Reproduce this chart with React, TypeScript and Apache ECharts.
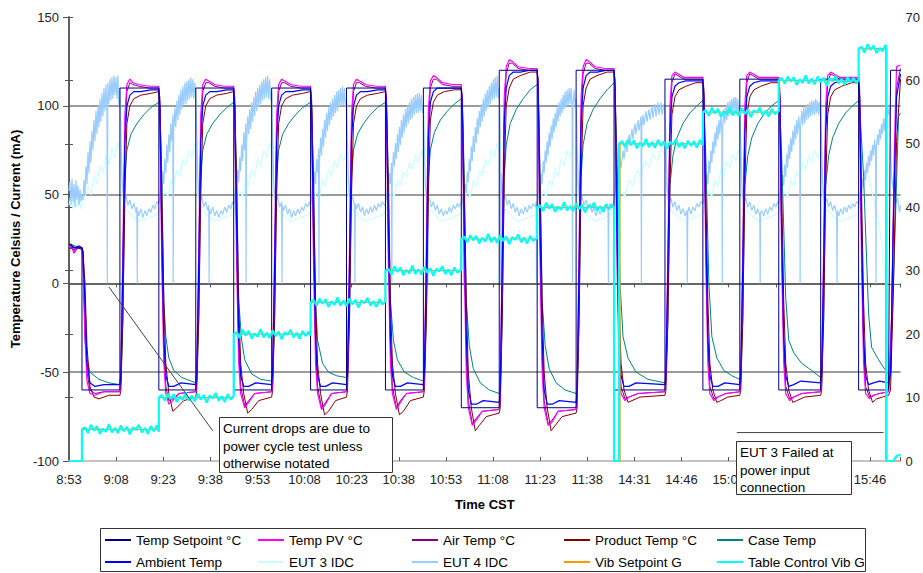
import React, { useEffect, useRef } from 'react';
import * as echarts from 'echarts';

// x = sample index; one time label every TICK_STEP samples
const TICK_STEP = 47.2;
const X_MAX = 833;
const TIME_LABELS = ['8:53', '9:08', '9:23', '9:38', '9:53', '10:08', '10:23', '10:38', '10:53', '11:08', '11:23', '11:38', '14:31', '14:46', '15:01', '15:16', '15:31', '15:46'];
// labels hidden behind the "EUT 3 Failed" note in the reference
const COVERED_LABELS = ['15:16', '15:31'];

const SETPOINT = [0,22, 3,22, 3,20, 13,20, 13,-60, 51,-60, 51,110, 90,110, 90,-60, 127,-60, 127,110, 165,110, 165,-60, 203,-60, 203,110, 242,110, 242,-60, 278,-60, 278,110, 317,110, 317,-60, 355,-60, 355,110, 393,110, 393,-70, 431,-70, 431,120, 469,120, 469,-70, 508,-70, 508,120, 546,120, 546,-60, 597,-60, 597,115, 635,115, 635,-60, 672,-60, 672,115, 711,115, 711,-60, 753,-60, 753,115, 791,115, 791,-60, 821,-60, 823,120, 833,120];

const TEMP_PV = [0,21, 3,20, 5,17, 7,19, 9,21, 13,20,
 14,12, 16,-30, 18,-55, 21,-62, 26,-63, 35,-61, 51,-61,
 52,-50, 54,20, 56,95, 58,112, 61,115, 64,113, 70,112, 80,111, 90,111,
 91,95, 93,10, 95,-45, 97,-62, 100,-68, 104,-66, 110,-62, 127,-61,
 128,-50, 130,20, 132,95, 134,112, 137,115, 140,114, 146,112, 155,111, 165,111,
 166,95, 168,10, 170,-45, 172,-62, 176,-70, 180,-67, 186,-62, 203,-61,
 204,-50, 206,20, 208,95, 210,112, 213,115, 216,114, 222,112, 232,111, 242,111,
 243,95, 245,10, 247,-45, 249,-62, 253,-71, 257,-68, 263,-62, 278,-61,
 279,-50, 281,20, 283,95, 285,112, 288,115, 291,114, 297,112, 307,111, 317,111,
 318,95, 320,10, 322,-45, 324,-62, 328,-71, 332,-67, 338,-62, 355,-61,
 356,-50, 358,20, 360,98, 362,114, 365,117, 368,116, 374,113, 384,112, 393,112,
 394,95, 396,10, 398,-50, 400,-70, 404,-80, 408,-77, 414,-72, 431,-71,
 432,-60, 434,20, 436,105, 438,122, 441,126, 444,125, 450,122, 460,121, 469,121,
 470,105, 472,10, 474,-50, 476,-70, 480,-80, 484,-78, 490,-72, 508,-71,
 509,-60, 511,20, 513,105, 515,122, 518,126, 521,125, 527,122, 537,121, 546,121,
 547,105, 549,10, 551,-45, 553,-62, 557,-66, 561,-64, 570,-62, 597,-61,
 598,-50, 600,20, 602,100, 604,117, 607,119, 610,118, 616,116, 626,116, 635,116,
 636,100, 638,10, 640,-45, 642,-62, 646,-66, 650,-64, 658,-62, 672,-61,
 673,-50, 675,20, 677,100, 679,117, 682,119, 685,118, 691,116, 701,116, 711,116,
 712,100, 714,10, 716,-45, 718,-62, 722,-66, 726,-64, 734,-62, 753,-61,
 754,-50, 756,20, 758,100, 760,117, 763,119, 766,118, 772,116, 782,116, 791,116,
 792,100, 794,10, 796,-45, 798,-62, 802,-65, 806,-63, 812,-62, 821,-61,
 824,-20, 827,80, 829,122, 833,123];

const AIR_TEMP = [0,21, 3,20, 6,18, 9,20, 13,20,
 14,15, 16,-20, 18,-50, 21,-60, 26,-62, 35,-61, 51,-61,
 52,-55, 54,0, 56,85, 58,108, 61,113, 64,112, 70,111, 80,110, 90,110,
 91,100, 93,20, 95,-35, 97,-58, 100,-66, 104,-65, 110,-62, 127,-61,
 128,-55, 130,0, 132,85, 134,108, 137,113, 140,113, 146,111, 155,110, 165,110,
 166,100, 168,20, 170,-35, 172,-58, 176,-69, 180,-66, 186,-62, 203,-61,
 204,-55, 206,0, 208,85, 210,108, 213,113, 216,113, 222,111, 232,110, 242,110,
 243,100, 245,20, 247,-35, 249,-58, 253,-70, 257,-67, 263,-62, 278,-61,
 279,-55, 281,0, 283,85, 285,108, 288,113, 291,113, 297,111, 307,110, 317,110,
 318,100, 320,20, 322,-35, 324,-58, 328,-70, 332,-66, 338,-62, 355,-61,
 356,-55, 358,0, 360,88, 362,110, 365,115, 368,115, 374,112, 384,111, 393,111,
 394,100, 396,20, 398,-40, 400,-66, 404,-79, 408,-76, 414,-72, 431,-71,
 432,-65, 434,0, 436,95, 438,118, 441,124, 444,124, 450,121, 460,120, 469,120,
 470,110, 472,20, 474,-40, 476,-66, 480,-79, 484,-77, 490,-72, 508,-71,
 509,-65, 511,0, 513,95, 515,118, 518,124, 521,124, 527,121, 537,120, 546,120,
 547,110, 549,20, 551,-35, 553,-58, 557,-65, 561,-64, 570,-62, 597,-61,
 598,-55, 600,0, 602,90, 604,113, 607,118, 610,117, 616,115, 626,115, 635,115,
 636,105, 638,20, 640,-35, 642,-58, 646,-65, 650,-64, 658,-62, 672,-61,
 673,-55, 675,0, 677,90, 679,113, 682,118, 685,117, 691,115, 701,115, 711,115,
 712,105, 714,20, 716,-35, 718,-58, 722,-65, 726,-64, 734,-62, 753,-61,
 754,-55, 756,0, 758,90, 760,113, 763,118, 766,117, 772,115, 782,115, 791,115,
 792,105, 794,20, 796,-35, 798,-58, 802,-64, 806,-63, 812,-62, 821,-61,
 823,-50, 826,40, 829,110, 833,121];

const PRODUCT_TEMP = [0,20, 5,19, 9,20, 13,19,
 14,18, 16,0, 18,-35, 21,-58, 25,-64, 30,-65, 40,-63, 51,-63,
 52,-60, 54,-20, 56,50, 58,90, 61,100, 65,104, 72,106, 82,107, 90,108,
 91,105, 93,50, 95,-10, 97,-45, 100,-62, 104,-72, 108,-70, 115,-66, 127,-64,
 128,-60, 130,-20, 132,50, 134,90, 137,100, 141,104, 148,106, 158,107, 165,108,
 166,105, 168,50, 170,-10, 172,-45, 175,-62, 179,-73, 183,-71, 190,-66, 203,-64,
 204,-60, 206,-20, 208,50, 210,90, 213,100, 217,104, 224,106, 234,107, 242,108,
 243,105, 245,50, 247,-10, 249,-45, 252,-62, 256,-74, 260,-72, 267,-66, 278,-64,
 279,-60, 281,-20, 283,50, 285,90, 288,100, 292,104, 299,106, 309,107, 317,108,
 318,105, 320,50, 322,-10, 324,-45, 327,-62, 331,-74, 335,-72, 342,-66, 355,-64,
 356,-60, 358,-20, 360,50, 362,92, 365,102, 369,106, 376,108, 386,109, 393,109,
 394,105, 396,50, 398,-10, 400,-50, 403,-70, 407,-83, 411,-80, 418,-75, 431,-73,
 432,-70, 434,-20, 436,60, 438,100, 441,110, 445,115, 452,117, 462,119, 469,119,
 470,115, 472,50, 474,-10, 476,-50, 479,-70, 483,-83, 487,-80, 494,-75, 508,-73,
 509,-70, 511,-20, 513,60, 515,100, 518,110, 522,115, 529,117, 539,119, 546,119,
 547,115, 549,50, 551,-10, 553,-45, 556,-60, 560,-67, 564,-66, 572,-64, 597,-63,
 598,-60, 600,-20, 602,55, 604,95, 607,105, 611,109, 618,111, 628,113, 635,113,
 636,110, 638,50, 640,-10, 642,-45, 645,-60, 649,-67, 653,-66, 660,-64, 672,-63,
 673,-60, 675,-20, 677,55, 679,95, 682,105, 686,109, 693,111, 703,113, 711,113,
 712,110, 714,50, 716,-10, 718,-45, 721,-60, 725,-67, 729,-66, 737,-64, 753,-63,
 754,-60, 756,-20, 758,55, 760,95, 763,105, 767,109, 774,111, 784,113, 791,113,
 792,110, 794,50, 796,-10, 798,-45, 801,-60, 805,-67, 809,-65, 815,-64, 821,-63,
 823,-60, 826,0, 829,80, 833,115];

const CASE_TEMP = [0,22, 13,20,
 14,18, 16,-32, 18,-42, 21,-50, 30,-54, 40,-56, 51,-57,
 52,-55, 54,-20, 56,60, 58,75, 62,84, 68,90, 75,95, 82,99, 90,102,
 91,100, 93,60, 95,-10, 97,-30, 100,-42, 105,-49, 113,-53, 127,-56,
 128,-54, 130,-20, 132,60, 134,75, 138,84, 144,90, 151,95, 158,99, 165,102,
 166,100, 168,60, 170,-10, 173,-32, 176,-43, 183,-51, 192,-54, 203,-55,
 204,-53, 206,-20, 208,60, 210,75, 214,84, 220,90, 227,95, 234,99, 242,102,
 243,100, 245,60, 247,-10, 249,-32, 254,-45, 260,-50, 268,-52, 278,-53,
 279,-52, 281,-20, 283,60, 285,75, 289,84, 295,90, 302,95, 309,99, 317,102,
 318,100, 320,60, 322,-10, 325,-32, 329,-43, 336,-50, 345,-53, 355,-55,
 356,-53, 358,-20, 360,60, 362,75, 366,85, 372,92, 379,97, 386,101, 393,104,
 394,102, 396,60, 398,-10, 401,-35, 405,-48, 412,-56, 421,-60, 431,-62,
 432,-60, 434,-20, 436,60, 438,78, 442,90, 448,98, 455,104, 462,109, 469,112,
 470,110, 472,60, 474,-10, 477,-35, 481,-48, 488,-56, 497,-60, 508,-62,
 509,-60, 511,-20, 513,60, 515,78, 519,90, 525,98, 532,104, 539,109, 546,113,
 547,110, 549,70, 552,0, 555,-30, 560,-42, 568,-50, 580,-54, 597,-56,
 598,-54, 600,-20, 602,55, 605,72, 609,82, 615,90, 622,96, 629,100, 635,103,
 636,100, 638,70, 641,0, 644,-30, 649,-42, 656,-49, 664,-52, 672,-54,
 673,-52, 675,-20, 677,55, 680,72, 684,82, 690,90, 697,96, 704,100, 711,103,
 712,100, 714,70, 718,-8, 721,-32, 726,-39, 734,-45, 744,-49, 753,-53,
 754,-51, 756,-20, 758,55, 761,72, 765,82, 771,90, 778,96, 785,100, 791,103,
 792,100, 796,60, 801,-17, 804,-36, 811,-43, 818,-49, 821,-51,
 823,-50, 827,20, 831,94, 833,96];

const AMBIENT_TEMP = [0,22, 3,21, 6,20, 10,21, 13,20,
 14,18, 16,-10, 18,-45, 21,-56, 26,-58, 35,-57, 51,-57,
 52,-50, 54,10, 56,80, 58,100, 61,106, 65,108, 72,108, 82,109, 90,109,
 91,100, 93,30, 95,-30, 97,-52, 100,-58, 105,-58, 112,-56, 127,-57,
 128,-50, 130,10, 132,80, 134,100, 137,106, 141,108, 148,108, 158,109, 165,109,
 166,100, 168,30, 170,-30, 172,-52, 175,-58, 180,-58, 187,-56, 203,-57,
 204,-50, 206,10, 208,80, 210,100, 213,106, 217,108, 224,108, 234,109, 242,109,
 243,100, 245,30, 247,-30, 249,-52, 252,-58, 257,-58, 264,-56, 278,-57,
 279,-50, 281,10, 283,80, 285,100, 288,106, 292,108, 299,108, 309,109, 317,109,
 318,100, 320,30, 322,-30, 324,-52, 327,-58, 332,-58, 339,-56, 355,-57,
 356,-50, 358,10, 360,82, 362,102, 365,108, 369,110, 376,110, 386,110, 393,110,
 394,100, 396,30, 398,-30, 400,-60, 403,-68, 408,-68, 415,-66, 431,-67,
 432,-60, 434,10, 436,90, 438,110, 441,117, 445,119, 452,119, 462,120, 469,120,
 470,110, 472,30, 474,-30, 476,-60, 479,-68, 484,-68, 491,-66, 508,-67,
 509,-60, 511,10, 513,90, 515,110, 518,117, 522,119, 529,119, 539,120, 546,120,
 547,110, 549,30, 551,-30, 553,-52, 556,-58, 561,-58, 568,-56, 597,-57,
 598,-50, 600,10, 602,85, 604,105, 607,111, 611,113, 618,114, 628,114, 635,114,
 636,105, 638,30, 640,-30, 642,-52, 645,-58, 650,-58, 657,-56, 672,-57,
 673,-50, 675,10, 677,85, 679,105, 682,111, 686,113, 693,114, 703,114, 711,114,
 712,105, 714,30, 716,-30, 718,-52, 721,-58, 726,-57, 733,-55, 753,-56,
 754,-50, 756,10, 758,85, 760,105, 763,111, 767,113, 774,114, 784,114, 791,114,
 792,105, 794,30, 796,-30, 798,-52, 801,-57, 806,-56, 812,-55, 821,-56,
 823,-50, 826,40, 829,105, 833,118];

const EUT3_IDC = [0,44, 2,50, 4,42, 6,49, 8,43, 10,48, 12,42, 13,45,
 16,48, 19,55, 22,50, 25,60, 28,56, 31,66, 34,62, 37,72, 40,67, 43,76, 46,71, 49,80, 51,74,
 53,50, 55,42, 60,40, 65,37, 70,35, 75,36, 80,37, 85,38, 90,40,
 93,46, 96,52, 99,49, 102,58, 105,55, 108,64, 111,60, 114,70, 117,66, 120,75, 123,71, 126,79, 127,75,
 129,50, 131,42, 136,40, 141,37, 146,35, 151,36, 156,37, 161,38, 165,40,
 168,46, 171,52, 174,49, 177,58, 180,55, 183,64, 186,60, 189,70, 192,66, 195,75, 198,71, 201,79, 203,75,
 205,50, 207,42, 212,40, 217,37, 222,35, 227,36, 232,37, 237,38, 242,40,
 245,46, 248,52, 251,49, 254,58, 257,55, 260,64, 263,60, 266,69, 269,65, 272,73, 275,69, 278,75,
 280,50, 282,42, 287,40, 292,37, 297,35, 302,36, 307,37, 312,38, 317,40,
 320,46, 323,52, 326,49, 329,58, 332,55, 335,63, 338,60, 341,68, 344,64, 347,72, 350,68, 353,75, 355,72,
 357,50, 359,42, 364,40, 369,37, 374,35, 379,36, 384,37, 389,38, 393,40,
 396,46, 399,52, 402,49, 405,58, 408,55, 411,64, 414,60, 417,70, 420,66, 423,75, 426,71, 429,79, 431,75,
 433,50, 435,42, 440,40, 445,37, 450,35, 455,36, 460,37, 465,38, 469,40,
 472,46, 475,52, 478,49, 481,58, 484,55, 487,64, 490,60, 493,70, 496,66, 499,75, 502,71, 505,78, 508,75,
 510,50, 512,42, 517,40, 522,37, 527,35, 532,36, 537,37, 542,38, 546,40,
 549,46, 553,52, 557,49, 561,58, 565,55, 569,64, 573,60, 577,69, 581,65, 585,73, 589,69, 593,76, 597,73,
 599,50, 601,42, 606,40, 611,37, 616,35, 621,36, 626,37, 631,38, 635,40,
 638,46, 641,52, 644,49, 647,58, 650,55, 653,64, 656,60, 659,69, 662,65, 665,73, 668,69, 671,76, 672,73,
 674,50, 676,42, 681,40, 686,37, 691,35, 696,36, 701,37, 706,38, 711,40,
 714,46, 717,52, 720,49, 723,58, 726,55, 729,63, 732,60, 735,68, 738,64, 741,72, 744,68, 747,75, 750,71, 753,74,
 755,50, 757,42, 762,40, 767,37, 772,35, 777,36, 782,37, 787,38, 791,40,
 795,55, 799,65, 803,55, 807,45, 811,35, 814,22, 816,10, 818,0, 822,0, 826,0, 830,0, 833,0];

const EUT4_IDC = [0,52, 1,57, 2,44, 3,59, 4,46, 5,56, 6,43, 7,58, 8,47, 9,55, 10,44, 11,53, 12,46, 13,50,
 14,47, 15,58, 16,50, 17,66, 18,56, 19,74, 20,62, 21,80, 22,68, 23,86, 24,75, 25,92, 26,80, 27,97, 28,84, 29,100, 30,88, 31,104, 32,91, 33,107, 34,94, 35,110, 36,97, 37,112, 38,98, 38.4,0, 38.8,100, 39,113, 40,101, 41,115, 42,103, 43,116, 44,104, 45,117, 46,106, 47,116, 48,104, 49,117, 50,100, 51,110,
 52,85, 53,60, 54,52, 55,47, 57,50, 59,44, 61,47, 63,42, 65,45, 67,40, 68,43, 68.4,0, 68.8,41, 70,38, 72,42, 74,37, 76,41, 78,38, 80,42, 82,40, 84,44, 86,42, 88,46, 90,45,
 91,48, 92,55, 93,50, 94,63, 95,56, 96,70, 97,62, 98,78, 99,68, 100,84, 101,74, 102,90, 103,80, 104,95, 104.4,0, 104.8,84, 106,99, 107,88, 108,103, 109,92, 110,106, 111,95, 112,109, 113,98, 114,111, 115,100, 116,113, 117,101, 118,114, 119,103, 120,115, 121,104, 122,116, 123,105, 124,115, 125,104, 126,113, 127,108,
 128,85, 129,60, 130,50, 131,46, 133,49, 135,43, 137,46, 139,41, 140,44, 140.4,0, 140.8,42, 142,39, 144,43, 146,38, 148,41, 150,37, 152,41, 154,39, 156,43, 158,40, 160,44, 162,42, 164,46, 165,44,
 166,47, 167,56, 168,50, 169,64, 170,57, 171,71, 172,63, 173,78, 174,69, 175,85, 176,75, 177,90, 177.4,0, 177.8,78, 179,94, 180,84, 181,98, 182,87, 183,102, 184,91, 185,105, 186,94, 187,108, 188,97, 189,110, 190,99, 191,112, 192,101, 193,114, 194,103, 195,115, 196,104, 197,116, 198,105, 199,117, 200,104, 201,115, 202,103, 203,108,
 204,82, 205,58, 206,50, 207,46, 209,49, 211,43, 213,46, 213.4,0, 213.8,44, 215,41, 217,44, 219,39, 221,42, 223,37, 225,41, 227,38, 229,42, 231,39, 233,43, 235,41, 237,45, 239,43, 241,46, 242,44,
 243,48, 244,56, 245,50, 246,63, 247,56, 248,70, 249,62, 250,76, 250.4,0, 250.8,66, 252,82, 253,72, 254,87, 255,77, 256,92, 257,82, 258,96, 259,86, 260,99, 261,89, 262,102, 263,92, 264,104, 265,94, 266,106, 267,96, 268,108, 269,97, 270,109, 271,99, 272,110, 273,100, 274,111, 275,100, 276,110, 277,99, 278,104,
 279,80, 280,57, 281,50, 282,46, 284,49, 286,44, 286.4,0, 286.8,45, 288,42, 290,45, 292,40, 294,43, 296,38, 298,42, 300,39, 302,43, 304,40, 306,44, 308,41, 310,45, 312,43, 314,46, 316,44, 317,45,
 318,48, 319,55, 320,50, 321,62, 322,56, 323,68, 323.4,0, 323.8,60, 325,74, 326,66, 327,79, 328,70, 329,84, 330,74, 331,88, 332,78, 333,92, 334,82, 335,95, 336,85, 337,98, 338,88, 339,100, 340,90, 341,102, 342,92, 343,104, 344,93, 345,105, 346,95, 347,106, 348,96, 349,107, 350,96, 351,107, 352,97, 353,106, 354,96, 355,100,
 356,78, 357,56, 358,49, 359,45, 359.4,0, 359.8,46, 361,48, 363,43, 365,46, 367,41, 369,44, 371,39, 373,42, 375,38, 377,41, 379,39, 381,43, 383,40, 385,44, 387,42, 389,45, 391,43, 393,46,
 394,49, 395,42, 395.4,0, 395.8,50, 397,56, 398,51, 399,63, 400,57, 401,70, 402,63, 403,77, 404,69, 405,83, 406,74, 407,88, 408,79, 409,93, 410,84, 411,97, 412,88, 413,101, 414,91, 415,104, 416,94, 417,107, 418,97, 419,109, 420,99, 421,111, 422,101, 423,113, 424,103, 425,115, 426,104, 427,116, 428,105, 429,117, 430,104, 431,110,
 432,85, 432.4,0, 432.8,62, 434,52, 435,47, 437,50, 439,44, 441,47, 443,42, 445,45, 447,40, 449,43, 451,38, 453,42, 455,39, 457,43, 459,40, 461,44, 463,42, 465,45, 467,43, 468,46, 468.4,0, 468.8,46, 469,45,
 470,48, 471,56, 472,50, 473,62, 474,56, 475,69, 476,62, 477,75, 478,68, 479,80, 480,72, 481,85, 482,77, 483,89, 484,81, 485,93, 486,85, 487,96, 488,88, 489,99, 490,91, 491,102, 492,94, 493,104, 494,96, 495,106, 496,98, 497,108, 498,99, 499,109, 500,100, 501,110, 502,101, 503,110, 504,100, 504.4,0, 504.8,100, 506,109, 507,100, 508,104,
 509,80, 510,57, 511,50, 512,46, 514,49, 516,44, 518,47, 520,42, 522,45, 524,40, 526,43, 528,38, 530,42, 532,39, 534,43, 536,40, 538,44, 540,41, 540.4,0, 540.8,42, 542,45, 544,43, 546,46,
 547,50, 548,58, 549,54, 550,64, 551,60, 552,70, 553,65, 555,75, 556,70, 558,80, 559,74, 561,84, 562,78, 564,87, 565,81, 567,90, 568,84, 570,92, 571,86, 573,94, 573.4,0, 573.8,88, 575,95, 576,89, 578,97, 579,91, 581,98, 582,92, 584,100, 585,93, 587,101, 588,94, 590,102, 591,95, 593,102, 594,95, 596,101, 597,98,
 598,78, 599,56, 600,49, 601,45, 603,48, 605,43, 607,46, 609,41, 611,44, 613,39, 615,42, 617,38, 619,41, 619.4,0, 619.8,40, 621,43, 623,39, 625,43, 627,41, 629,45, 631,43, 633,46, 635,45,
 636,48, 637,55, 638,50, 639,62, 640,56, 641,69, 642,62, 643,75, 644,68, 645,80, 646,73, 647,85, 648,77, 649,89, 650,81, 651,92, 652,84, 653,95, 654,86, 654.4,0, 654.8,88, 656,98, 657,90, 658,100, 659,92, 660,102, 661,94, 662,103, 663,95, 664,104, 665,96, 666,105, 667,97, 668,105, 669,96, 670,104, 671,95, 672,100,
 673,78, 674,56, 675,49, 676,45, 678,48, 680,43, 682,46, 684,41, 686,44, 688,39, 690,42, 692,38, 692.4,0, 692.8,40, 694,41, 696,38, 698,42, 700,39, 702,43, 704,41, 706,45, 708,43, 710,46, 711,45,
 712,48, 713,55, 714,50, 715,61, 716,55, 717,67, 718,60, 719,73, 720,65, 721,78, 722,70, 723,82, 724,74, 725,86, 726,78, 727,89, 728,81, 729,92, 730,84, 731,94, 732,86, 732.4,0, 732.8,88, 734,97, 735,89, 736,99, 737,90, 738,100, 739,92, 740,101, 741,93, 742,102, 743,94, 744,103, 745,95, 746,103, 747,95, 748,104, 749,96, 750,103, 751,95, 752,102, 753,98,
 754,78, 755,56, 756,49, 757,45, 759,48, 761,43, 763,46, 765,41, 767,44, 769,39, 769.4,0, 769.8,41, 771,38, 773,42, 775,39, 777,43, 779,40, 781,44, 783,42, 785,45, 787,43, 789,46, 791,45,
 792,48, 793,54, 794,50, 795,59, 796,54, 797,64, 798,58, 799,68, 800,62, 801,72, 802,66, 803,75, 804,69, 805,78, 806,72, 807,81, 808,75, 808.4,0, 808.8,76, 810,84, 811,78, 812,87, 813,81, 814,90, 815,84, 816,93, 817,86, 818,96, 819,89, 820,99, 821,95, 822,100,
 823,80, 824,60, 826,52, 828,45, 830,48, 832,40, 833,44];

const VIB_SETPOINT = [0,0, 13,0, 13,5, 90,5, 90,10, 165,10, 165,20, 242,20, 242,25, 317,25, 317,30, 393,30, 393,35, 469,35, 469,40, 546,40, 546,0, 552,0, 552,50, 635,50, 635,55, 711,55, 711,60, 791,60, 791,65, 818,65, 818,0, 833,0];

const TABLE_VIB = [0,0, 13,0,
 13,5, 16,5.3, 19,4.4, 22,5.7, 25,4.8, 28,5.5, 31,4.3, 34,5.1, 37,4.6, 40,5.8, 43,4.5, 46,5.2, 49,4.4, 52,5.6, 55,4.7, 58,5.4, 61,4.2, 64,5.3, 67,4.9, 70,5.7, 73,4.5, 76,5.2, 79,4.3, 82,5.5, 85,4.7, 88,5.6, 90,4.6,
 90,10, 93,10.4, 96,9.5, 99,10.6, 102,9.8, 105,10.5, 108,9.3, 111,10.2, 114,9.6, 117,10.8, 120,9.5, 123,10.3, 126,9.4, 129,10.6, 132,9.7, 135,10.4, 138,9.2, 141,10.3, 144,9.9, 147,10.7, 150,9.5, 153,10.2, 156,9.3, 159,10.5, 162,9.7, 165,10.3,
 165,20, 168,20.3, 171,19.4, 174,20.7, 177,19.8, 180,20.5, 183,19.3, 186,20.1, 189,19.6, 192,20.8, 195,19.5, 198,20.2, 201,19.4, 204,20.6, 207,19.7, 210,20.4, 213,19.2, 216,20.3, 219,19.9, 222,20.7, 225,19.5, 228,20.2, 231,19.3, 234,20.5, 237,19.7, 240,20.4, 242,19.8,
 242,25, 245,25.4, 248,24.5, 251,25.6, 254,24.8, 257,25.5, 260,24.3, 263,25.2, 266,24.6, 269,25.8, 272,24.5, 275,25.3, 278,24.4, 281,25.6, 284,24.7, 287,25.4, 290,24.2, 293,25.3, 296,24.9, 299,25.7, 302,24.5, 305,25.2, 308,24.3, 311,25.5, 314,24.7, 317,25.2,
 317,30, 320,30.3, 323,29.4, 326,30.7, 329,29.8, 332,30.5, 335,29.3, 338,30.1, 341,29.6, 344,30.8, 347,29.5, 350,30.2, 353,29.4, 356,30.6, 359,29.7, 362,30.4, 365,29.2, 368,30.3, 371,29.9, 374,30.7, 377,29.5, 380,30.2, 383,29.3, 386,30.5, 389,29.7, 393,30.2,
 393,35, 396,35.4, 399,34.5, 402,35.6, 405,34.8, 408,35.5, 411,34.3, 414,35.2, 417,34.6, 420,35.8, 423,34.5, 426,35.3, 429,34.4, 432,35.6, 435,34.7, 438,35.4, 441,34.2, 444,35.3, 447,34.9, 450,35.7, 453,34.5, 456,35.2, 459,34.3, 462,35.5, 465,34.7, 469,35.2,
 469,40, 472,40.3, 475,39.4, 478,40.7, 481,39.8, 484,40.5, 487,39.3, 490,40.1, 493,39.6, 496,40.8, 499,39.5, 502,40.2, 505,39.4, 508,40.6, 511,39.7, 514,40.4, 517,39.2, 520,40.3, 523,39.9, 526,40.7, 529,39.5, 532,40.2, 535,39.3, 538,40.5, 541,39.7, 544,40.4, 546,39.8,
 546,0, 551,0,
 551,50, 554,50.4, 557,49.5, 560,50.6, 563,49.8, 566,50.5, 569,49.3, 572,50.2, 575,49.6, 578,50.8, 581,49.5, 584,50.3, 587,49.4, 590,50.6, 593,49.7, 596,50.4, 599,49.2, 602,50.3, 605,49.9, 608,50.7, 611,49.5, 614,50.2, 617,49.3, 620,50.5, 623,49.7, 626,50.4, 629,49.4, 632,50.6, 635,49.8,
 635,55, 638,55.3, 641,54.4, 644,55.7, 647,54.8, 650,55.5, 653,54.3, 656,55.1, 659,54.6, 662,55.8, 665,54.5, 668,55.2, 671,54.4, 674,55.6, 677,54.7, 680,55.4, 683,54.2, 686,55.3, 689,54.9, 692,55.7, 695,54.5, 698,55.2, 701,54.3, 704,55.5, 707,54.7, 711,55.2,
 711,60, 714,60.4, 717,59.5, 720,60.6, 723,59.8, 726,60.5, 729,59.3, 732,60.2, 735,59.6, 738,60.8, 741,59.5, 744,60.3, 747,59.4, 750,60.6, 753,59.7, 756,60.4, 759,59.2, 762,60.3, 765,59.9, 768,60.7, 771,59.5, 774,60.2, 777,59.3, 780,60.5, 783,59.7, 786,60.4, 789,59.5, 791,60.2,
 791,65, 794,65.3, 797,64.4, 800,65.7, 803,64.8, 806,65.5, 809,64.3, 812,65.1, 815,64.6, 818,65.6, 819,65, 819,0, 826,0, 829,0.8, 833,1];

// annotation leader lines (in data units)
const LEADER_1 = [40, -2, 144, -83];
const LEADER_2 = [669, -84, 816, -84];

const ANNOT_1 = ['Current drops are due to', 'power cycle test unless', 'otherwise notated'];
const ANNOT_2 = ['EUT 3 Failed at', 'power input', 'connection'];

const FONT = '"Liberation Sans", Arial, Helvetica, sans-serif';

const toPairs = (flat: number[]) => {
  const out: number[][] = [];
  for (let i = 0; i < flat.length; i += 2) out.push([flat[i], flat[i + 1]]);
  return out;
};

const LEGEND_LAYOUT: [string, number, number][] = [
  ['Temp Setpoint °C', 105, 533],
  ['Temp PV °C', 258, 533],
  ['Air Temp °C', 412, 533],
  ['Product Temp °C', 564, 533],
  ['Case Temp', 717, 533],
  ['Ambient Temp', 105, 555],
  ['EUT 3 IDC', 258, 555],
  ['EUT 4 IDC', 412, 555],
  ['Vib Setpoint G', 564, 555],
  ['Table Control Vib G', 717, 555],
];

export default function App() {
  const ref = useRef<HTMLDivElement>(null);
  useEffect(() => {
    if (!ref.current) return;
    const chart = echarts.init(ref.current, null, { renderer: 'svg' });

    const line = (name: string, data: number[], color: string, width: number, yAxisIndex = 0, z = 2) => ({
      name,
      type: 'line',
      xAxisIndex: 0,
      yAxisIndex,
      data: toPairs(data),
      showSymbol: false,
      symbol: 'none',
      smooth: false,
      silent: true,
      z,
      color,
      lineStyle: { color, width },
      emphasis: { disabled: true },
    });

    const series: any[] = [
      line('EUT 3 IDC', EUT3_IDC, '#CCFFFF', 1.2, 0, 2),
      line('EUT 4 IDC', EUT4_IDC, '#99CCFF', 1.2, 0, 2),
      line('Case Temp', CASE_TEMP, '#008080', 1, 0, 3),
      line('Product Temp °C', PRODUCT_TEMP, '#800000', 1, 0, 3),
      line('Air Temp °C', AIR_TEMP, '#800080', 1, 0, 3),
      line('Temp PV °C', TEMP_PV, '#FF00FF', 1.2, 0, 3),
      line('Ambient Temp', AMBIENT_TEMP, '#0000FF', 1.2, 0, 3),
      line('Temp Setpoint °C', SETPOINT, '#000080', 1, 0, 4),
      line('Vib Setpoint G', VIB_SETPOINT, '#FF9900', 1.2, 1, 4),
      line('Table Control Vib G', TABLE_VIB, '#00FFFF', 2.2, 1, 5),
      line('lead1', LEADER_1, '#404040', 1, 0, 6),
      line('lead2', LEADER_2, '#404040', 1, 0, 6),
    ];

    const legends = LEGEND_LAYOUT.map(([name, left, top]) => ({
      data: [name],
      left,
      top,
      padding: 0,
      itemWidth: 26,
      itemHeight: 2,
      icon: 'rect',
      itemGap: 0,
      textStyle: { fontFamily: FONT, fontSize: 13.5, color: '#000' },
    }));

    const textEl = (text: string, x: number, y: number) => ({
      type: 'text',
      x,
      y,
      z: 101,
      style: { text, font: `13.5px ${FONT}`, fill: '#000', verticalAlign: 'middle', align: 'left' },
    });

    const option: any = {
      animation: false,
      textStyle: { fontFamily: FONT },
      grid: { left: 69, right: 21, top: 17, bottom: 112, containLabel: false },
      legend: legends,
      xAxis: [
        {
          type: 'value',
          position: 'bottom',
          min: 0,
          max: X_MAX,
          interval: TICK_STEP,
          name: 'Time CST',
          nameLocation: 'middle',
          nameGap: 37,
          nameTextStyle: { fontFamily: FONT, fontSize: 13, fontWeight: 'bold', color: '#000' },
          axisLine: { show: true, lineStyle: { color: '#555', width: 1.5 } },
          axisTick: { show: true, length: 4, lineStyle: { color: '#555' } },
          axisLabel: {
            margin: 12,
            fontSize: 13,
            color: '#222',
            fontFamily: FONT,
            formatter: (v: number) => {
              const i = Math.round(v / TICK_STEP);
              const lab = TIME_LABELS[i];
              if (Math.abs(i * TICK_STEP - v) > 0.5 || !lab) return '';
              return COVERED_LABELS.includes(lab) ? '' : lab;
            },
          },
          splitLine: { show: false },
        },
        {
          type: 'value',
          position: 'top',
          min: 0,
          max: X_MAX,
          axisLine: { show: true, lineStyle: { color: '#c4c4c4', width: 2 } },
          axisTick: { show: false },
          axisLabel: { show: false },
          splitLine: { show: false },
        },
        {
          type: 'value',
          position: 'bottom',
          min: 0,
          max: X_MAX,
          interval: TICK_STEP,
          axisLine: { show: false },
          axisTick: { show: true, inside: true, length: 4, lineStyle: { color: '#555' } },
          axisLabel: { show: false },
          splitLine: { show: false },
        },
      ],
      yAxis: [
        {
          type: 'value',
          position: 'left',
          min: -100,
          max: 150,
          interval: 50,
          name: 'Temperature Celsius / Current (mA)',
          nameLocation: 'middle',
          nameGap: 42,
          nameTextStyle: { fontFamily: FONT, fontSize: 13, fontWeight: 'bold', color: '#000' },
          axisLine: { show: true, lineStyle: { color: '#555', width: 1.5 } },
          axisTick: { show: true, length: 6, lineStyle: { color: '#555' } },
          axisLabel: { margin: 10, fontSize: 13, color: '#222', fontFamily: FONT },
          splitLine: { show: true, showMinLine: false, showMaxLine: false, lineStyle: { color: '#7a7a7a', width: 1.5 } },
        },
        {
          type: 'value',
          position: 'right',
          min: 0,
          max: 70,
          interval: 10,
          axisLine: { show: true, lineStyle: { color: '#555', width: 1.5 } },
          axisTick: { show: true, length: 4, lineStyle: { color: '#555' } },
          axisLabel: { margin: 5, fontSize: 13, color: '#222', fontFamily: FONT },
          splitLine: { show: false },
        },
        {
          type: 'value',
          position: 'right',
          min: 0,
          max: 70,
          interval: 10,
          axisLine: { show: false },
          axisTick: { show: true, inside: true, length: 4, lineStyle: { color: '#555' } },
          axisLabel: { show: false },
          splitLine: { show: false },
        },
      ],
      series,
      graphic: [
        { type: 'rect', z: 100, shape: { x: 219.5, y: 417.5, width: 173, height: 55 }, style: { fill: '#fff', stroke: '#333', lineWidth: 1 } },
        textEl(ANNOT_1[0], 223, 428),
        textEl(ANNOT_1[1], 223, 446),
        textEl(ANNOT_1[2], 223, 463),
        { type: 'rect', z: 100, shape: { x: 736.5, y: 441.5, width: 115, height: 53 }, style: { fill: '#fff', stroke: '#333', lineWidth: 1 } },
        textEl(ANNOT_2[0], 740, 452),
        textEl(ANNOT_2[1], 740, 470),
        textEl(ANNOT_2[2], 740, 487),
        { type: 'rect', z: 100, shape: { x: 100.5, y: 528.5, width: 765, height: 43 }, style: { fill: 'none', stroke: '#333', lineWidth: 1 } },
      ],
    };

    chart.setOption(option);
    return () => chart.dispose();
  }, []);

  return <div ref={ref} style={{ position: 'fixed', left: 0, top: 0, width: 923, height: 573, background: '#fff' }} />;
}
